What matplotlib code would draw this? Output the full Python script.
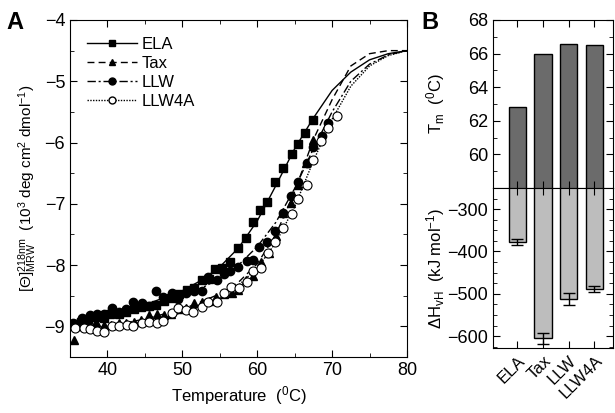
import numpy as np
import matplotlib
matplotlib.use('Agg')
import matplotlib.pyplot as plt
from matplotlib.ticker import MultipleLocator

plt.rcParams['font.family'] = ['Liberation Sans', 'DejaVu Sans']
plt.rcParams['font.size'] = 12
plt.rcParams['mathtext.fontset'] = 'custom'
plt.rcParams['mathtext.rm'] = 'Liberation Sans'
plt.rcParams['mathtext.it'] = 'Liberation Sans'

# --- panel A: measured points ---
ela_t = [35.6, 36.5, 37.4, 38.4, 39.5, 40.4, 41.5, 42.5, 43.5, 44.5, 45.6, 46.5, 47.5,
         48.5, 49.6, 50.6, 51.5, 52.6, 53.5, 54.4, 55.3, 56.4, 57.4, 58.5, 59.4, 60.4,
         61.3, 62.4, 63.5, 64.6, 65.5, 66.4, 67.4]
ela_v = [-8.97, -8.93, -8.88, -8.84, -8.87, -8.80, -8.80, -8.76, -8.72, -8.68, -8.67, -8.65, -8.58,
         -8.53, -8.48, -8.40, -8.38, -8.25, -8.22, -8.06, -8.05, -7.95, -7.72, -7.55, -7.30, -7.10,
         -6.97, -6.65, -6.42, -6.18, -6.02, -5.85, -5.63]

tax_t = [35.5, 36.5, 37.5, 38.5, 39.5, 40.5, 41.6, 42.5, 43.5, 44.5, 45.6, 46.6, 47.6,
         48.5, 49.5, 50.5, 51.5, 52.6, 53.5, 54.5, 55.5, 56.6, 57.5, 58.5, 59.4, 60.5,
         61.6, 62.5, 63.5, 64.5, 65.5, 66.5, 67.4]
tax_v = [-9.22, -9.00, -8.95, -8.93, -8.98, -8.98, -8.95, -8.95, -8.93, -8.90, -8.82, -8.80, -8.82,
         -8.80, -8.72, -8.70, -8.62, -8.60, -8.58, -8.52, -8.48, -8.45, -8.40, -8.25, -8.18, -7.95,
         -7.80, -7.52, -7.15, -6.98, -6.70, -6.33, -5.96]

llw_t = [35.4, 36.6, 37.7, 38.6, 39.5, 40.6, 41.5, 42.5, 43.4, 44.6, 45.5, 46.5, 47.4,
         48.6, 49.4, 50.5, 51.5, 52.6, 53.4, 54.6, 55.5, 56.4, 57.4, 58.6, 59.5, 60.3,
         61.3, 62.4, 63.5, 64.5, 65.5, 66.6, 67.5, 68.6, 69.5]
llw_v = [-8.94, -8.87, -8.82, -8.80, -8.80, -8.70, -8.76, -8.72, -8.60, -8.62, -8.67, -8.43, -8.52,
         -8.46, -8.55, -8.45, -8.42, -8.42, -8.20, -8.24, -8.15, -8.10, -8.03, -7.94, -7.92, -7.70,
         -7.63, -7.45, -7.15, -6.88, -6.64, -6.33, -6.07, -5.90, -5.68]

llw4a_t = [35.7, 36.9, 37.7, 38.6, 39.5, 40.6, 41.6, 42.6, 43.4, 44.6, 45.5, 46.6, 47.4,
           48.6, 49.4, 50.5, 51.4, 52.6, 53.4, 54.6, 55.5, 56.5, 57.6, 58.6, 59.4, 60.5,
           61.4, 62.4, 63.5, 64.6, 65.4, 66.6, 67.4, 68.5, 69.5, 70.6]
llw4a_v = [-9.03, -9.02, -9.05, -9.08, -9.10, -9.00, -9.00, -8.98, -9.00, -8.94, -8.93, -8.94, -8.92,
           -8.79, -8.70, -8.74, -8.76, -8.68, -8.60, -8.60, -8.46, -8.36, -8.38, -8.27, -8.10, -8.04,
           -7.81, -7.63, -7.40, -7.16, -6.92, -6.69, -6.28, -5.98, -5.77, -5.57]

# --- panel A: fitted curves ---
fit_t = [35, 40, 45, 50, 52.5, 55, 57.5, 60, 62.5, 65, 67.5, 70, 72.5, 75, 77.5, 80]
fit_ela = [-8.95, -8.82, -8.65, -8.42, -8.25, -8.03, -7.72, -7.28, -6.70, -6.10, -5.60, -5.15,
           -4.85, -4.65, -4.55, -4.50]
fit_tax = [-9.05, -9.00, -8.88, -8.72, -8.60, -8.47, -8.28, -7.98, -7.50, -6.80, -5.95, -5.30,
           -4.75, -4.55, -4.50, -4.50]
fit_llw = [-8.92, -8.82, -8.68, -8.50, -8.38, -8.22, -8.00, -7.70, -7.30, -6.75, -6.10, -5.50,
           -5.00, -4.72, -4.57, -4.50]
fit_llw4a = [-9.05, -9.00, -8.92, -8.78, -8.67, -8.53, -8.33, -8.05, -7.63, -7.05, -6.30, -5.62,
             -5.08, -4.75, -4.58, -4.50]

# --- panel B ---
peptides = ['ELA', 'Tax', 'LLW', 'LLW4A']
tm = [62.84, 65.98, 66.55, 66.5]
dh = [-378, -605, -513, -489]
dh_err = [7, 13, 14, 7]

fig = plt.figure(figsize=(6.15, 4.13), dpi=100)

# panel A
ax = fig.add_axes([0.1138, 0.1356, 0.548, 0.816])
ax.plot(fit_t, fit_ela, color='black', lw=1.0, ls='-')
ax.plot(fit_t, fit_tax, color='black', lw=1.0, ls=(0, (5, 3)))
ax.plot(fit_t, fit_llw, color='black', lw=1.0, ls=(0, (6, 2, 1.5, 2)))
ax.plot(fit_t, fit_llw4a, color='black', lw=1.0, ls=(0, (1, 1)))
ax.plot(ela_t, ela_v, 's', color='black', ms=5.5, ls='none')
ax.plot(tax_t, tax_v, '^', color='black', ms=6, ls='none')
ax.plot(llw_t, llw_v, 'o', color='black', ms=6, ls='none')
ax.plot(llw4a_t, llw4a_v, 'o', mfc='white', mec='black', mew=0.8, ms=6.5, ls='none')

h1, = ax.plot([], [], color='black', lw=1.0, ls='-', marker='s', ms=5)
h2, = ax.plot([], [], color='black', lw=1.0, ls=(0, (5, 3)), marker='^', ms=5)
h3, = ax.plot([], [], color='black', lw=1.0, ls=(0, (6, 2, 1.5, 2)), marker='o', ms=5)
h4, = ax.plot([], [], color='black', lw=1.0, ls=(0, (1, 1)), marker='o', mfc='white', ms=5)
ax.legend([h1, h2, h3, h4], ['ELA', 'Tax', 'LLW', 'LLW4A'], loc='upper left',
          frameon=False, handlelength=3.0, handletextpad=0.3, labelspacing=0.25,
          fontsize=12, borderaxespad=0.6)

ax.set_xlim(35, 80)
ax.set_ylim(-9.5, -4)
ax.xaxis.set_major_locator(MultipleLocator(10))
ax.xaxis.set_minor_locator(MultipleLocator(5))
ax.yaxis.set_major_locator(MultipleLocator(1))
ax.yaxis.set_minor_locator(MultipleLocator(0.5))
ax.tick_params(which='both', direction='in', top=True, right=True, labelsize=13)
ax.tick_params(which='major', length=5)
ax.tick_params(which='minor', length=3)
ax.set_xlabel('Temperature  ($^0$C)', fontsize=12)
ax.set_ylabel('[$\\Theta$]$^{218nm}_{MRW}$  (10$^3$ deg cm$^2$ dmol$^{-1}$)', fontsize=11)
fig.text(0.01, 0.93, 'A', fontsize=17, fontweight='bold')

# panel B
x = np.arange(1, len(peptides) + 1)
axt = fig.add_axes([0.8016, 0.5448, 0.195, 0.4068])
axb = fig.add_axes([0.8016, 0.1574, 0.195, 0.3874])
axt.bar(x, tm, width=0.68, color='#6b6b6b', edgecolor='black', lw=1.0)
axb.bar(x, dh, width=0.68, color='#bdbdbd', edgecolor='black', lw=1.0,
        yerr=dh_err, capsize=4, error_kw=dict(elinewidth=1.0, capthick=1.0))
for a in (axt, axb):
    a.set_xlim(0.05, 4.72)
    a.set_xticks(x)
    a.tick_params(which='both', direction='in', top=True, right=True, labelsize=13)
    a.tick_params(which='major', length=5)
    a.tick_params(which='minor', length=3)
axt.set_ylim(58, 68)
axt.yaxis.set_major_locator(MultipleLocator(2))
axt.yaxis.set_minor_locator(MultipleLocator(1))
axt.set_yticks([60, 62, 64, 66, 68])
axt.tick_params(labelbottom=False)
axb.set_ylim(-628, -250)
axb.set_yticks([-300, -400, -500, -600])
axb.yaxis.set_minor_locator(MultipleLocator(25))
axb.set_xticklabels(peptides, rotation=45, ha='right', rotation_mode='anchor', fontsize=12)
axt.set_ylabel('T$_m$  ($^0$C)', fontsize=12)
axb.set_ylabel('$\\Delta$H$_{vH}$  (kJ mol$^{-1}$)', fontsize=12)
axt.yaxis.set_label_coords(-0.38, 0.5)
axb.yaxis.set_label_coords(-0.38, 0.5)
fig.text(0.685, 0.93, 'B', fontsize=17, fontweight='bold')

fig.savefig('out.png', dpi=100)
